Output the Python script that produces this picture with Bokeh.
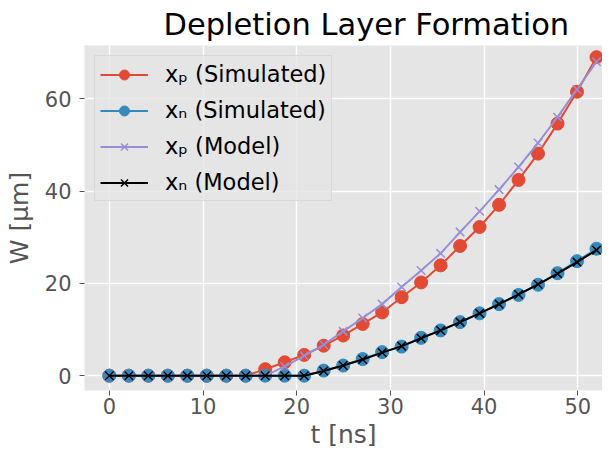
from bokeh.plotting import figure
from bokeh.models import Range1d, FixedTicker, Legend, LegendItem, Title
from bokeh.embed import file_html
from bokeh.resources import INLINE

# ---- data ----
t_ns = [0.0, 2.08, 4.16, 6.24, 8.32, 10.4, 12.48, 14.56, 16.64, 18.72, 20.8,
        22.88, 24.96, 27.04, 29.12, 31.2, 33.28, 35.36, 37.44, 39.52, 41.6,
        43.68, 45.76, 47.84, 49.92, 52.0]
xp_sim = [0, 0, 0, 0, 0, 0, 0, 0, 1.4, 2.9, 4.5, 6.5, 8.7, 11.2, 13.7, 17.0,
          20.2, 23.9, 28.1, 32.2, 37.0, 42.4, 48.1, 54.6, 61.5, 69.0]
xn_sim = [0, 0, 0, 0, 0, 0, 0, 0, 0, 0, 0, 1.1, 2.2, 3.6, 5.1, 6.3, 8.2, 9.8,
          11.6, 13.5, 15.5, 17.5, 19.7, 22.2, 24.8, 27.5]
xp_model = [0, 0, 0, 0, 0, 0, 0, 0, 0, 2.0, 4.3, 6.7, 9.6, 12.5, 15.5, 19.2,
            22.8, 26.5, 31.1, 35.6, 40.3, 45.2, 50.4, 56.0, 62.0, 68.0]
xn_model = [0, 0, 0, 0, 0, 0, 0, 0, 0, 0, 0, 1.0, 2.2, 3.5, 5.0, 6.4, 8.1, 9.8,
            11.6, 13.5, 15.5, 17.6, 19.8, 22.1, 24.6, 27.2]
x_ticks = [0, 10, 20, 30, 40, 50]
y_ticks = [0, 20, 40, 60]
labels = ["x\u209a (Simulated)", "x\u2099 (Simulated)", "x\u209a (Model)", "x\u2099 (Model)"]

RED = "#E24A33"
BLUE = "#348ABD"
PURPLE = "#988ED5"
BLACK = "#000000"
FONT = "DejaVu Sans"

p = figure(width=602, height=451, output_backend="svg", toolbar_location=None,
           x_range=Range1d(-2.65, 52.64), y_range=Range1d(-3.21, 71.52),
           min_border_left=84, min_border_right=0, min_border_top=43,
           min_border_bottom=60)
p.title = Title(text="Depletion Layer Formation", align="left", offset=79,
                text_font=FONT, text_font_size="30.5px", text_font_style="normal",
                text_color="#000000", standoff=8)

p.background_fill_color = "#E5E5E5"
p.border_fill_color = "#FFFFFF"
p.outline_line_color = None

for ax in (p.xaxis[0], p.yaxis[0]):
    ax.axis_line_color = None
    ax.major_tick_line_color = "#555555"
    ax.major_tick_line_width = 1
    ax.major_tick_out = 5
    ax.major_tick_in = 0
    ax.minor_tick_line_color = None
    ax.major_label_text_font = FONT
    ax.major_label_text_font_size = "21px"
    ax.major_label_text_color = "#555555"
    ax.axis_label_text_font = FONT
    ax.axis_label_text_font_size = "25px"
    ax.axis_label_text_font_style = "normal"
    ax.axis_label_text_color = "#555555"

p.xaxis[0].ticker = FixedTicker(ticks=x_ticks)
p.yaxis[0].ticker = FixedTicker(ticks=y_ticks)
p.xaxis[0].axis_label = "t [ns]"
p.yaxis[0].axis_label = "W [\u03bcm]"
p.xaxis[0].major_label_standoff = 2
p.yaxis[0].major_label_standoff = 8
p.xaxis[0].axis_label_standoff = 3
p.yaxis[0].axis_label_standoff = 8

p.grid.grid_line_color = "#FFFFFF"
p.grid.grid_line_width = 1.5
p.xgrid.ticker = FixedTicker(ticks=x_ticks)
p.ygrid.ticker = FixedTicker(ticks=y_ticks)

l1 = p.line(t_ns, xp_sim, line_color=RED, line_width=2)
s1 = p.scatter(t_ns, xp_sim, marker="circle", size=13, fill_color=RED, line_color=RED)
l2 = p.line(t_ns, xn_sim, line_color=BLUE, line_width=2)
s2 = p.scatter(t_ns, xn_sim, marker="circle", size=13, fill_color=BLUE, line_color=BLUE)
l3 = p.line(t_ns, xp_model, line_color=PURPLE, line_width=2)
s3 = p.scatter(t_ns, xp_model, marker="x", size=12, line_color=PURPLE, line_width=1.5)
l4 = p.line(t_ns, xn_model, line_color=BLACK, line_width=2)
s4 = p.scatter(t_ns, xn_model, marker="x", size=12, line_color=BLACK, line_width=1.5)

legend = Legend(items=[LegendItem(label=labels[0], renderers=[l1, s1]),
                       LegendItem(label=labels[1], renderers=[l2, s2]),
                       LegendItem(label=labels[2], renderers=[l3, s3]),
                       LegendItem(label=labels[3], renderers=[l4, s4])],
                location="top_left", margin=10, padding=5, spacing=10,
                glyph_width=48, glyph_height=25, label_height=25,
                label_standoff=17,
                label_text_font=FONT, label_text_font_size="22.5px",
                label_text_color="#000000",
                background_fill_color="#E5E5E5", background_fill_alpha=0.8,
                border_line_color="#CCCCCC", border_line_width=1)
p.add_layout(legend)

open("out.html", "w").write(file_html(p, INLINE))
